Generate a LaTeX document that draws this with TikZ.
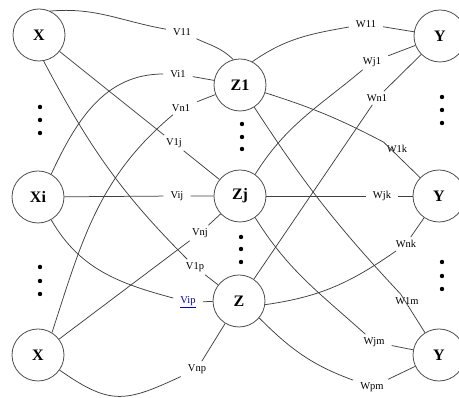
\documentclass[tikz,border=0pt]{standalone}
\usepackage{fontspec}
\setmainfont{Liberation Serif}
\tikzset{
  unit/.style   = {draw=black!70, circle, minimum size=52pt, inner sep=0pt, line width=0.8pt,
                   font=\fontsize{16}{16}\selectfont\bfseries},
  weight/.style = {inner xsep=7pt, inner ysep=3pt, font=\fontsize{10.5}{11}\selectfont},
  link/.style   = {line width=0.75pt, draw=black!75}
}

\begin{document}
\begin{tikzpicture}[x=1pt,y=1pt]
\useasboundingbox (0,0) rectangle (459,398);
% input layer
\node[unit] (xa) at (39,363) {X};
\node[unit] (xi) at (38,201) {Xi};
\node[unit] (xn) at (38,43) {X};
% hidden layer
\node[unit] (z1) at (240,313) {Z1};
\node[unit] (zj) at (240,202) {Zj};
\node[unit] (zp) at (239,97) {Z};
% output layer
\node[unit] (ya) at (440,362) {Y};
\node[unit] (yk) at (439,202) {Y};
\node[unit] (ym) at (439,43) {Y};
% weights V
\node[weight] (v11) at (182,366) {V11};
\node[weight] (vi1) at (178,324) {Vi1};
\node[weight] (vn1) at (181,290) {Vn1};
\node[weight] (v1j) at (174,255) {V1j};
\node[weight] (vij) at (177,202) {Vij};
\node[weight] (vnj) at (200,165) {Vnj};
\node[weight] (v1p) at (195,131) {V1p};
\node[weight,text=blue!70!black] (vip) at (188,96) {\underline{Vip}};
\node[weight] (vnp) at (197,29) {Vnp};
% weights W
\node[weight] (w11) at (366,374) {W11};
\node[weight] (wj1) at (372,336) {Wj1};
\node[weight] (wn1) at (377,300) {Wn1};
\node[weight] (w1k) at (397,249) {W1k};
\node[weight] (wjk) at (382,202) {Wjk};
\node[weight] (wnk) at (406,154) {Wnk};
\node[weight] (w1m) at (407,97) {W1m};
\node[weight] (wjm) at (374,56) {Wjm};
\node[weight] (wpm) at (372,11) {Wpm};
% dots
\foreach \x/\y in {40/291, 40/278, 40/265, 40/131, 40/117, 40/104,
                   242/274, 242/261, 242/249, 241/161, 241/149, 241/136,
                   442/301, 442/288, 442/275, 442/136, 442/122, 442/109}
  \fill (\x,\y) circle (2.2pt);
% input to hidden
\draw[link] (xa.65) to[out=5,in=170] (v11) to[out=-25,in=135] (z1.105);
\draw[link] (xi.60) to[out=65,in=180] (vi1) -- (z1);
\draw[link] (xn.58) to[out=72,in=220] (vn1) -- (z1);
\draw[link] (xa) -- (v1j) -- (zj);
\draw[link] (xi) -- (vij) -- (zj);
\draw[link] (xn) -- (vnj) -- (zj);
\draw[link] (xa.-80) to[out=-62,in=135] (v1p) -- (zp);
\draw[link] (xi.-60) to[out=-60,in=165] (vip) -- (zp);
\draw[link] (xn.-35) to[out=-35,in=205,looseness=1.3] (vnp) -- (zp);
% hidden to output
\draw[link] (z1.62) to[out=35,in=190] (w11) -- (ya);
\draw[link] (zj.55) to[out=58,in=220] (wj1) -- (ya);
\draw[link] (zp) -- (wn1) -- (ya);
\draw[link] (z1) to[bend left=5] (w1k) -- (yk);
\draw[link] (zj) -- (wjk) -- (yk);
\draw[link] (zp.-8) to[out=8,in=215] (wnk) -- (yk);
\draw[link] (z1) to[bend right=5] (w1m) -- (ym);
\draw[link] (zj.-55) to[out=-58,in=138] (wjm) -- (ym);
\draw[link] (zp.-40) to[out=-45,in=160] (wpm) -- (ym);
\end{tikzpicture}
\end{document}
